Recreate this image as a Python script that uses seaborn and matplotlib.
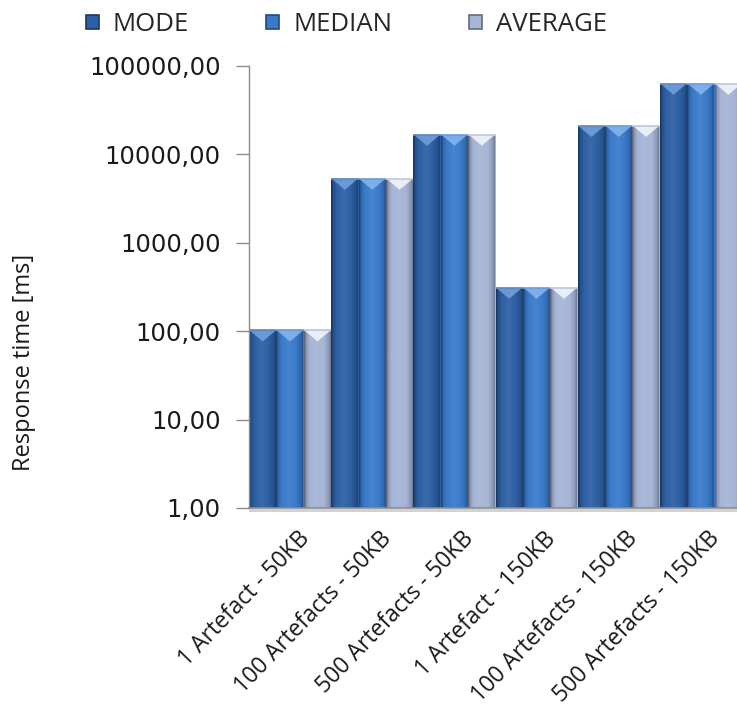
import numpy as np
import pandas as pd
import matplotlib
matplotlib.use("Agg")
import matplotlib.pyplot as plt
import seaborn as sns
from matplotlib.patches import Polygon, Rectangle
from matplotlib.colors import to_rgb
from matplotlib import ticker, transforms

# Response-time measurements per test scenario
scenarios = ["1 Artefact - 50KB", "100 Artefacts - 50KB", "500 Artefacts - 50KB",
             "1 Artefact - 150KB", "100 Artefacts - 150KB", "500 Artefacts - 150KB"]
mode_ms = [102, 5300, 16700, 310, 21000, 63000]
median_ms = [102, 5300, 16700, 310, 21000, 63000]
average_ms = [102, 5300, 16700, 310, 21000, 63000]
stats = ["MODE", "MEDIAN", "AVERAGE"]
y_ticks = [1, 10, 100, 1000, 10000, 100000]
y_tick_labels = ["1,00", "10,00", "100,00", "1000,00", "10000,00", "100000,00"]

base_colors = {"MODE": "#2D5FA3", "MEDIAN": "#3A7ACA", "AVERAGE": "#A6B4D6"}
cap_colors = {"MODE": "#79A6E2", "MEDIAN": "#8DBBF2", "AVERAGE": "#FBFCFF"}

df = pd.DataFrame({
    "scenario": scenarios * 3,
    "stat": np.repeat(stats, len(scenarios)),
    "ms": mode_ms + median_ms + average_ms,
})

sns.set_theme(style="white")
plt.rcParams["font.family"] = ["DejaVu Sans"]

W, H = 737, 713
fig = plt.figure(figsize=(W / 100, H / 100), dpi=100)
ax = fig.add_axes([249 / W, (H - 508) / H, 493 / W, 442 / H])
ax.set_yscale("log")
sns.barplot(data=df, x="scenario", y="ms", hue="stat", hue_order=stats,
            palette=base_colors, width=1.0, gap=0, ax=ax, legend=False,
            linewidth=0, saturation=1)
ax.set_ylim(1, 100000)
ax.set_xlim(-0.5, len(scenarios) - 0.5)


def shade(rgb, m):
    rgb = np.asarray(rgb)
    if m >= 1:
        return rgb + (1 - rgb) * (m - 1)
    return rgb * m


# cylindrical shading across each bar plus a bevelled cap on top
profile_t = [0.0, 0.06, 0.18, 0.45, 0.72, 0.9, 1.0]
profile_m = [0.58, 0.84, 1.0, 1.07, 1.0, 0.84, 0.6]
tt = np.linspace(0, 1, 64)
mm = np.interp(tt, profile_t, profile_m)

bars = list(ax.patches)
for i, patch in enumerate(bars):
    stat = stats[i // len(scenarios)]
    x0 = patch.get_x()
    w = patch.get_width()
    top = patch.get_y() + patch.get_height()
    rgb = to_rgb(base_colors[stat])
    grad = np.array([[shade(rgb, m) for m in mm]])
    ax.imshow(grad, extent=[x0, x0 + w, 1, top], aspect="auto",
              interpolation="bilinear", zorder=3)
    # cap depth measured in pixels
    px = ax.transData.transform((x0, top))
    tip_y = ax.transData.inverted().transform((px[0], px[1] - 11))[1]
    cap = Polygon([(x0 + 0.02 * w, top), (x0 + 0.98 * w, top),
                   (x0 + 0.5 * w, tip_y)], closed=True,
                  facecolor=cap_colors[stat], edgecolor="none", alpha=0.8, zorder=4)
    ax.add_patch(cap)
    ax.plot([x0, x0 + w], [top, top], color=shade(rgb, 1.25), lw=1.2, zorder=5,
            solid_capstyle="butt")

ax.set_aspect("auto")
ax.set_xlim(-0.5, len(scenarios) - 0.5)
ax.set_ylim(1, 100000)

ax.yaxis.set_major_locator(ticker.FixedLocator(y_ticks))
ax.yaxis.set_major_formatter(ticker.FixedFormatter(y_tick_labels))
ax.yaxis.set_minor_locator(ticker.NullLocator())
ax.tick_params(axis="y", which="major", left=True, length=9.5, width=1,
               color="#8C8C8C", pad=11, labelsize=17.5, labelcolor="#1A1A1A")
ax.tick_params(axis="x", bottom=False, pad=4)

ax.set_xlabel("")
ax.set_ylabel("")
ax.set_xticks(range(len(scenarios)))
ax.set_xticklabels(scenarios, rotation=46, ha="right", rotation_mode="anchor",
                   fontsize=16.5, fontfamily="Open Sans", color="#1A1A1A")
for lab in ax.get_xticklabels():
    lab.set_transform(lab.get_transform()
                      + transforms.ScaledTranslation(0.07, -0.05, fig.dpi_scale_trans))

for side in ["top", "right"]:
    ax.spines[side].set_visible(False)
ax.spines["left"].set_color("#8C8C8C")
ax.spines["left"].set_linewidth(1)
ax.spines["bottom"].set_color("#8C8C8C")
ax.spines["bottom"].set_linewidth(1.2)
ax.spines["bottom"].set_zorder(6)
ax.spines["left"].set_zorder(6)

# shadow along the base line
fig.patches.append(Rectangle((249 / W, (H - 512) / H), 493 / W, 3.5 / H,
                             transform=fig.transFigure, facecolor="#D2D2D2",
                             edgecolor="none", zorder=1))

fig.text(24 / W, 1 - 362 / H, "Response time [ms]", rotation=90, ha="center",
         va="center", fontsize=17, fontfamily="Open Sans", color="#1A1A1A")

# legend with bevelled square markers
handles = [Rectangle((0, 0), 1, 1, facecolor=base_colors[s],
                     edgecolor=shade(to_rgb(base_colors[s]), 0.6), lw=1.2)
           for s in stats]
fig.legend(handles, stats, loc="upper left", bbox_to_anchor=(86 / W, 1 - 12 / H),
           ncol=3, frameon=False, handlelength=0.5, handleheight=0.5,
           handletextpad=0.55, columnspacing=3.0, borderpad=0, borderaxespad=0,
           prop={"family": "Open Sans", "size": 18.5})

fig.savefig("out.png", dpi=100)
